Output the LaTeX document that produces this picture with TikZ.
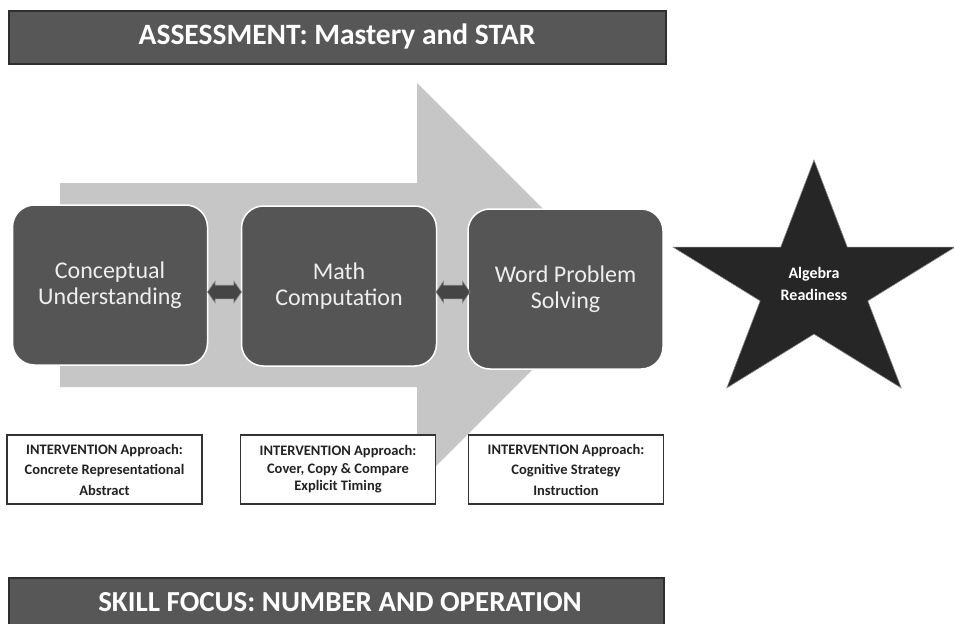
\documentclass[tikz,border=0pt]{standalone}
\usepackage{fontspec}
\setmainfont{Carlito}
\usetikzlibrary{shapes.arrows}
\definecolor{bandgray}{HTML}{575757}
\definecolor{bandedge}{HTML}{2E2E2E}
\definecolor{stagegray}{HTML}{555555}
\definecolor{stagetext}{HTML}{EEEEEE}
\definecolor{arrowlight}{HTML}{C6C6C6}
\definecolor{arrowdark}{HTML}{454545}
\definecolor{arrowedge}{HTML}{8C8C8C}
\definecolor{boxedge}{HTML}{333333}
\definecolor{apptext}{HTML}{222222}
\definecolor{starfill}{HTML}{262626}
\begin{document}
\begin{tikzpicture}[x=1pt,y=-1pt,
  banner/.style={draw=bandedge, line width=1.5pt, fill=bandgray, inner sep=0},
  bantext/.style={text=white, font=\fontsize{29.5}{31}\selectfont\bfseries, inner sep=0},
  stage/.style={rounded corners=22pt, draw=white, line width=1.5pt, fill=stagegray, text=stagetext, align=center, font=\fontsize{24}{26}\selectfont, minimum width=195pt, minimum height=160pt, inner sep=0},
  approach/.style={draw=boxedge, line width=1.5pt, fill=white, text=apptext, align=center, minimum width=195pt, minimum height=69pt, inner sep=0, font=\fontsize{14.5}{20.5}\selectfont\bfseries},
  dblarrow/.style={double arrow, double arrow head extend=4pt, double arrow tip angle=110, minimum height=34pt, minimum width=21pt, inner xsep=0pt, inner ysep=6.5pt, text width=0pt, fill=arrowdark, draw=arrowedge, line width=0.6pt},
  startext/.style={text=white, align=center, font=\fontsize{16}{22}\selectfont\bfseries, inner sep=0}
]
\clip (0,0) rectangle (954,624);
\fill[white] (0,0) rectangle (954,624);

% top banner
\node[banner, minimum width=657pt, minimum height=53pt] (top) at (337.5,37.5) {};
\node[bantext] (toplabel) at (337,36.5) {ASSESSMENT: Mastery and STAR};

% big background arrow
\fill[arrowlight] (60,183) -- (417,183) -- (417,83) -- (618,284) -- (417,485) -- (417,387) -- (60,387) -- cycle;

% stage boxes
\node[stage] (cu) at (110,285) {Conceptual\\Understanding};
\node[stage] (mc) at (339,286) {Math\\Computation};
\node[stage] (wp) at (565.5,289) {Word Problem\\Solving};

% double arrows between stages
\node[dblarrow] (d1) at (224.5,292) {};
\node[dblarrow] (d2) at (453,292) {};

% star
\fill[starfill, draw=arrowedge, line width=0.6pt]
  (814,160) -- (847.3,247.1) -- (955,247.1) -- (867.8,300.9) -- (901.2,387.9)
  -- (814,334.1) -- (726.8,387.9) -- (760.2,300.9) -- (673,247.1) -- (780.7,247.1) -- cycle;
\node[startext] (ar) at (814,284) {Algebra\\Readiness};

% intervention boxes
\node[approach] (i1) at (104.5,469.5) {INTERVENTION Approach:\\Concrete Representational\\Abstract};
\node[approach, font=\fontsize{14.5}{17.5}\selectfont\bfseries] (i2) at (338,469.5) {INTERVENTION Approach:\\Cover, Copy \& Compare\\Explicit Timing};
\node[approach] (i3) at (566,469.5) {INTERVENTION Approach:\\Cognitive Strategy\\Instruction};

% bottom banner
\node[banner, anchor=north, minimum width=655pt, minimum height=80pt] (bot) at (336.5,577) {};
\node[bantext, font=\fontsize{29}{31}\selectfont\bfseries, anchor=base] (botlabel) at (340,611) {SKILL FOCUS: NUMBER AND OPERATION};
\end{tikzpicture}
\end{document}
